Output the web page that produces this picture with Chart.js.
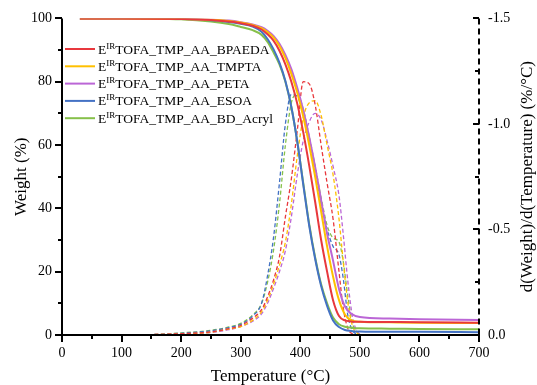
<!DOCTYPE html>
<html><head><meta charset="utf-8">
<script src="https://cdn.jsdelivr.net/npm/chart.js@4.4.1/dist/chart.umd.min.js"></script>
<style>html,body{margin:0;padding:0;background:#fff;}</style>
</head><body>
<canvas id="c" width="537" height="385"></canvas>
<script>
// ---- data ----
const seriesNames = ["TOFA_TMP_AA_BPAEDA","TOFA_TMP_AA_TMPTA","TOFA_TMP_AA_PETA","TOFA_TMP_AA_ESOA","TOFA_TMP_AA_BD_Acryl"];
const seriesColors = ["#E8383D","#FFC000","#BB66D6","#4472C4","#86C04A"];

const tgaTemp = [30,100,200,250,280,300,320,335,345,355,365,375,385,395,405,415,425,435,445,455,465,475,485,500,550,600,700];
const tgaBPAEDA = [100,100,99.8,99.5,99.0,98.5,97.7,96.5,95,93,89.8,85.5,80,73,64,53.5,42,30,20,11,6,4.6,4.3,4.2,4.1,4.0,3.9];
const tgaTMPTA  = [100,100,99.8,99.6,99.2,98.7,97.9,96.9,95.7,94,91.3,87.5,82.5,76.5,69,60,50,39,28,18.5,11,6.5,4.7,4.2,4.0,3.9,3.8];
const tgaPETA   = [100,100,99.8,99.6,99.3,98.8,98.1,97.2,96.1,94.5,92,88.5,84,78,71,62.5,53,42.5,32,23.5,14.5,9,6.8,5.7,5.2,5.0,4.7];
const tgaESOA   = [100,100,99.8,99.4,98.9,98.3,97.4,95.8,93.5,90.3,86,80.2,72,61,47.5,34.5,24,15.5,9.2,4.6,2.5,1.6,1.3,1.1,1.0,1.0,0.9];
const tgaBDAcryl= [100,100,99.7,99.0,98.2,97.3,96.3,94.8,92.6,89.3,85.5,80,72,61,48,35,24.5,16,10,5.5,3.4,2.6,2.3,2.1,2.0,1.9,1.8];

const dtgTemp = [35,100,150,200,250,280,300,320,335,345,355,365,375,385,395,405,415,425,435,445,455,465,472,480,488,495,505,520,600,700];
const dtgBPAEDA = [0,0,-0.002,-0.006,-0.015,-0.03,-0.045,-0.08,-0.12,-0.18,-0.26,-0.37,-0.56,-0.74,-0.97,-1.2,-1.19,-1.09,-0.9,-0.72,-0.55,-0.3,-0.13,-0.03,-0.005,0,0,0,0,0];
const dtgTMPTA  = [0,0,-0.002,-0.005,-0.013,-0.028,-0.04,-0.07,-0.11,-0.165,-0.24,-0.33,-0.44,-0.62,-0.85,-1.03,-1.1,-1.11,-1.04,-0.9,-0.76,-0.55,-0.35,-0.15,-0.04,-0.01,0,0,0,0];
const dtgPETA   = [0,0,-0.002,-0.005,-0.012,-0.025,-0.04,-0.065,-0.1,-0.15,-0.22,-0.3,-0.4,-0.56,-0.76,-0.92,-1.01,-1.05,-1.02,-0.92,-0.8,-0.66,-0.48,-0.25,-0.08,-0.02,0,0,0,0];
const dtgESOA   = [0,0,-0.002,-0.008,-0.02,-0.035,-0.05,-0.09,-0.15,-0.28,-0.46,-0.72,-1.0,-1.14,-1.13,-1.04,-0.91,-0.76,-0.62,-0.5,-0.42,-0.38,-0.27,-0.09,-0.02,-0.005,0,0,0,0];
const dtgBDAcryl= [0,0,-0.002,-0.01,-0.022,-0.038,-0.055,-0.095,-0.15,-0.25,-0.4,-0.62,-0.9,-1.1,-1.14,-1.07,-0.94,-0.8,-0.65,-0.52,-0.46,-0.44,-0.35,-0.18,-0.05,-0.015,0,0,0,0];

const xTicks = [0,100,200,300,400,500,600,700];
const yTicks = [0,20,40,60,80,100];
const y2Ticks = [-1.5,-1.0,-0.5,0.0];

const tgaSeries = [tgaBPAEDA,tgaTMPTA,tgaPETA,tgaESOA,tgaBDAcryl];
const dtgSeries = [dtgBPAEDA,dtgTMPTA,dtgPETA,dtgESOA,dtgBDAcryl];

const FONT = "'Liberation Serif','Times New Roman',serif";

const datasets = [];
tgaSeries.forEach((s,i)=>{
  datasets.push({label:seriesNames[i], data:tgaTemp.map((t,k)=>({x:t,y:s[k]})), yAxisID:'y',
    borderColor:seriesColors[i], borderWidth:2, pointRadius:0, cubicInterpolationMode:'monotone', fill:false});
});
dtgSeries.forEach((s,i)=>{
  datasets.push({label:seriesNames[i]+' DTG', data:dtgTemp.map((t,k)=>({x:t,y:s[k]})), yAxisID:'y2',
    borderColor:seriesColors[i], borderWidth:1.3, borderDash:[4,2.5], pointRadius:0, cubicInterpolationMode:'monotone', fill:false});
});

const decor = {
  id:'decor',
  afterDraw(chart){
    const ctx = chart.ctx, a = chart.chartArea;
    const sx = chart.scales.x, sy = chart.scales.y, sy2 = chart.scales.y2;
    ctx.save();
    ctx.strokeStyle = '#000'; ctx.lineWidth = 2; ctx.lineCap='butt';
    ctx.beginPath(); ctx.moveTo(a.left, a.top); ctx.lineTo(a.left, a.bottom+1); ctx.stroke();
    ctx.beginPath(); ctx.moveTo(a.left-1, a.bottom); ctx.lineTo(a.right+1, a.bottom); ctx.stroke();
    for (let v=0; v<=100; v+=10){
      const py = Math.round(sy.getPixelForValue(v));
      const len = (v%20===0)?7:4;
      ctx.beginPath(); ctx.moveTo(a.left-len, py); ctx.lineTo(a.left, py); ctx.stroke();
    }
    for (let v=0; v<=700; v+=50){
      const px = Math.round(sx.getPixelForValue(v));
      const len = (v%100===0)?7:4;
      ctx.beginPath(); ctx.moveTo(px, a.bottom); ctx.lineTo(px, a.bottom+len); ctx.stroke();
    }
    ctx.setLineDash([6,4]);
    ctx.beginPath(); ctx.moveTo(a.right, a.top); ctx.lineTo(a.right, a.bottom); ctx.stroke();
    ctx.setLineDash([]);
    for (let k=0; k<=6; k++){
      const v = -1.5 + k*0.25;
      const py = Math.round(sy2.getPixelForValue(v));
      const len = (k%2===0)?6:4;
      ctx.beginPath(); ctx.moveTo(a.right-len, py); ctx.lineTo(a.right, py); ctx.stroke();
    }
    // titles
    ctx.fillStyle = '#000';
    ctx.font = '17px ' + FONT;
    ctx.textAlign = 'center'; ctx.textBaseline = 'middle';
    ctx.fillText('Temperature (°C)', (a.left+a.right)/2, 377);
    ctx.save(); ctx.translate(22, (a.top+a.bottom)/2); ctx.rotate(-Math.PI/2);
    ctx.fillText('Weight (%)', 0, 0); ctx.restore();
    ctx.save(); ctx.translate(528, (a.top+a.bottom)/2); ctx.rotate(-Math.PI/2);
    ctx.fillText('d(Weight)/d(Temperature) (%/°C)', 0, 0); ctx.restore();
    // legend
    ctx.textAlign = 'left'; ctx.textBaseline = 'alphabetic';
    seriesNames.forEach((n,i)=>{
      const yy = 49 + i*17.3;
      ctx.strokeStyle = seriesColors[i]; ctx.lineWidth = 2;
      ctx.beginPath(); ctx.moveTo(65, yy); ctx.lineTo(95, yy); ctx.stroke();
      ctx.fillStyle = '#000';
      let xx = 98; const base = yy + 4.5;
      ctx.font = '13.5px ' + FONT; ctx.fillText('E', xx, base); xx += ctx.measureText('E').width;
      ctx.font = '9px ' + FONT; ctx.fillText('IR', xx, base-5); xx += ctx.measureText('IR').width;
      ctx.font = '13.5px ' + FONT; ctx.fillText(n, xx, base);
    });
    ctx.restore();
  }
};

new Chart(document.getElementById('c'), {
  type:'line',
  data:{datasets},
  options:{
    responsive:false, devicePixelRatio:1, animation:false,
    layout:{padding:{top:17,left:0,right:0,bottom:0}},
    plugins:{legend:{display:false}, tooltip:{enabled:false}},
    scales:{
      x:{type:'linear', min:0, max:700, afterFit(s){s.height=50;},
        afterBuildTicks(s){s.ticks = xTicks.map(v=>({value:v}));},
        grid:{display:false, drawTicks:false}, border:{display:false},
        ticks:{padding:10, color:'#000', font:{family:FONT,size:14}, maxRotation:0, autoSkip:false}},
      y:{type:'linear', position:'left', min:0, max:100, afterFit(s){s.width=62;},
        afterBuildTicks(s){s.ticks = yTicks.map(v=>({value:v}));},
        grid:{display:false, drawTicks:false}, border:{display:false},
        ticks:{padding:10, color:'#000', font:{family:FONT,size:14}}},
      y2:{type:'linear', position:'right', min:-1.5, max:0, reverse:true, afterFit(s){s.width=58;},
        afterBuildTicks(s){s.ticks = y2Ticks.map(v=>({value:v}));},
        grid:{display:false, drawTicks:false}, border:{display:false},
        ticks:{padding:9, color:'#000', font:{family:FONT,size:14}, callback:v=>Number(v).toFixed(1)}}
    }
  },
  plugins:[decor]
});
</script>
</body></html>
